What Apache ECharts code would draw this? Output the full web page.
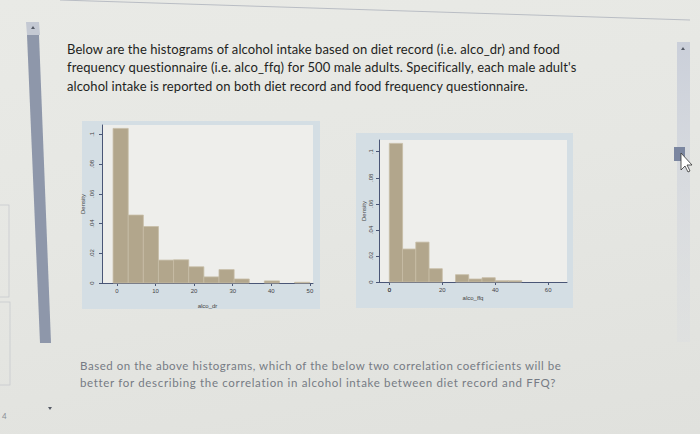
<!DOCTYPE html>
<html>
<head>
<meta charset="utf-8">
<script src="https://cdn.jsdelivr.net/npm/echarts@6/dist/echarts.min.js"></script>
<style>
  html, body { margin: 0; padding: 0; }
  body {
    width: 700px; height: 434px; overflow: hidden; position: relative;
    background: linear-gradient(170deg, #e9eae6 0%, #e6e7e3 45%, #e0e1dd 100%);
    font-family: Lato, "Open Sans", sans-serif;
  }
  .ln { position: absolute; white-space: nowrap; line-height: 18px; }
  .top { font-size: 13px; color: #1e1f22; }
  .bot { font-size: 11.5px; color: #767b84; }
  .panel { position: absolute; background: #d4dee4; }
  #chart { position: absolute; left: 0; top: 0; width: 700px; height: 434px; }
  #deco { position: absolute; left: 0; top: 0; }
</style>
</head>
<body>
<svg id="deco" width="700" height="434">
  <defs>
    <linearGradient id="trk" x1="0" y1="0" x2="0" y2="1">
      <stop offset="0" stop-color="#c9ced9" stop-opacity="0.95"/>
      <stop offset="1" stop-color="#d8dbe1" stop-opacity="0.3"/>
    </linearGradient>
  </defs>
  <line x1="60" y1="0" x2="690" y2="20" stroke="#b9bdc4" stroke-width="1"/>
  <polygon points="26,22 39,22 40,35 27,35" fill="#c4c9d3"/>
  <polygon points="27,35 39,35 51,343 40,343" fill="#8e97aa"/>
  <polygon points="31,29 33,26 35,29" fill="#555b66"/>
  <rect x="677" y="42" width="13" height="300" fill="url(#trk)"/>
  <polygon points="681,50 683,47 685,50" fill="#555b66"/>
  <rect x="674" y="147" width="11" height="14" fill="#7b86a0"/>
  <polygon points="681,153 681,170 685,166 688,172 690,171 687,165 692,165" fill="#ffffff" stroke="#333" stroke-width="0.8"/>
  <rect x="-1" y="205" width="10" height="92" fill="none" stroke="#c4c7cc" stroke-width="0.7"/>
  <rect x="-1" y="302" width="11" height="83" fill="none" stroke="#c4c7cc" stroke-width="0.7"/>
  <text x="2" y="419" font-size="8" fill="#8a8e95" font-family="Lato">4</text>
  <polygon points="48,407 52,407 50,410" fill="#555b66"/>
</svg>
<div class="panel" style="left:82px;top:121px;width:238px;height:188px;"></div>
<div class="panel" style="left:356px;top:133px;width:217px;height:175px;"></div>

<div class="ln top" data-w="493" style="left:67px;top:40px;">Below are the histograms of alcohol intake based on diet record (i.e. alco_dr) and food</div>
<div class="ln top" data-w="509" style="left:67px;top:58px;">frequency questionnaire (i.e. alco_ffq) for 500 male adults. Specifically, each male adult's</div>
<div class="ln top" data-w="461" style="left:67px;top:77px;">alcohol intake is reported on both diet record and food frequency questionnaire.</div>
<div class="ln bot" data-w="481" style="left:80px;top:357px;">Based on the above histograms, which of the below two correlation coefficients will be</div>
<div class="ln bot" data-w="476" style="left:80px;top:374px;">better for describing the correlation in alcohol intake between diet record and FFQ?</div>

<div id="chart"></div>
<script>
// ---- data ----
const drBinStart = -1;
const drBinWidth = 3.92;
const drDensity = [0.104, 0.0457, 0.038, 0.0154, 0.0156, 0.0109, 0.0041, 0.009, 0.0027, 0, 0.0014, 0, 0.0005];
const ffqBinStart = 0;
const ffqBinWidth = 5;
const ffqDensity = [0.1064, 0.0253, 0.0306, 0.0102, 0, 0.0056, 0.0023, 0.0033, 0.001, 0.001];
const drXTicks = [0, 10, 20, 30, 40, 50];
const ffqXTicks = [0, 20, 40, 60];
const yTicks = [0, 0.02, 0.04, 0.06, 0.08, 0.1];
const xNames = ['alco_dr', 'alco_ffq'];
const yName = 'Density';

// fit text lines to measured widths
document.querySelectorAll('.ln').forEach(el => {
  const target = +el.dataset.w;
  const w = el.getBoundingClientRect().width;
  const n = el.textContent.length;
  el.style.letterSpacing = ((target - w) / n) + 'px';
});

function toBins(start, width, dens) {
  return dens.map((d, i) => [start + i * width, start + (i + 1) * width, d]);
}

const axisColor = '#4a5676';
function yTickFmt(v) {
  if (Math.abs(v) < 1e-6) return '0';
  return String(+v.toFixed(2)).replace(/^0/, '');
}

function makeX(idx, min, max, ticks, name, nameGap) {
  return {
    type: 'value', gridIndex: idx, min: min, max: max, name: name,
    nameLocation: 'middle', nameGap: nameGap,
    nameTextStyle: { fontSize: 6, color: '#444' },
    axisLine: { show: true, onZero: false, lineStyle: { color: axisColor, width: 1 } },
    axisTick: { show: true, length: 3, lineStyle: { color: axisColor }, customValues: ticks },
    axisLabel: { fontSize: 6, color: '#444', margin: 5, customValues: ticks, hideOverlap: false,
                 showMinLabel: true, showMaxLabel: true },
    splitLine: { show: false }
  };
}
// label-only companion axis (draws the origin label of the second histogram)
function makeXLabelOnly(idx, min, max, vals) {
  return {
    type: 'value', gridIndex: idx, min: min, max: max, position: 'bottom',
    axisLine: { show: false, onZero: false },
    axisTick: { show: false },
    axisLabel: { fontSize: 6, color: '#444', margin: 5, customValues: vals, hideOverlap: false,
                 showMinLabel: true, showMaxLabel: true },
    splitLine: { show: false }
  };
}
function makeY(idx, max, nameGap, labelMargin) {
  return {
    type: 'value', gridIndex: idx, min: 0, max: max, name: yName,
    nameLocation: 'middle', nameGap: nameGap, nameRotate: 90,
    nameTextStyle: { fontSize: 6, color: '#444' },
    axisLine: { show: true, onZero: false, lineStyle: { color: axisColor, width: 1 } },
    axisTick: { show: true, length: 3, lineStyle: { color: axisColor }, customValues: yTicks },
    axisLabel: { fontSize: 6, color: '#444', rotate: 90, margin: labelMargin, customValues: yTicks,
                 formatter: yTickFmt, hideOverlap: false, showMinLabel: true, showMaxLabel: true },
    splitLine: { show: false }
  };
}

function renderBar(params, api) {
  const d = api.value(2);
  if (!d) return null;
  const p0 = api.coord([api.value(0), d]);
  const p1 = api.coord([api.value(1), 0]);
  return {
    type: 'rect',
    shape: { x: p0[0], y: p0[1], width: p1[0] - p0[0], height: p1[1] - p0[1] },
    style: { fill: '#b2a68c', stroke: '#c6bca6', lineWidth: 0.8 }
  };
}

const ffqMin = -3.9, ffqMax = 67.1;
const chart = echarts.init(document.getElementById('chart'), null, { renderer: 'svg' });
chart.setOption({
  animation: false,
  backgroundColor: 'transparent',
  grid: [
    { left: 102, top: 125, width: 211, height: 158, show: true, backgroundColor: '#eeeeeb', borderWidth: 0 },
    { left: 379, top: 140, width: 188, height: 142, show: true, backgroundColor: '#eeeeeb', borderWidth: 0 }
  ],
  xAxis: [
    makeX(0, -3.87, 50.8, drXTicks, xNames[0], 20),
    makeX(1, ffqMin, ffqMax, ffqXTicks, xNames[1], 13),
    makeXLabelOnly(1, ffqMin, ffqMax, ffqXTicks.slice(0, 1))
  ],
  yAxis: [
    makeY(0, 0.1063, 16, 7),
    makeY(1, 0.109, 12, 5)
  ],
  series: [
    { type: 'custom', xAxisIndex: 0, yAxisIndex: 0, renderItem: renderBar,
      encode: { x: [0, 1], y: 2 }, data: toBins(drBinStart, drBinWidth, drDensity) },
    { type: 'custom', xAxisIndex: 1, yAxisIndex: 1, renderItem: renderBar,
      encode: { x: [0, 1], y: 2 }, data: toBins(ffqBinStart, ffqBinWidth, ffqDensity) }
  ]
});
</script>
</body>
</html>
